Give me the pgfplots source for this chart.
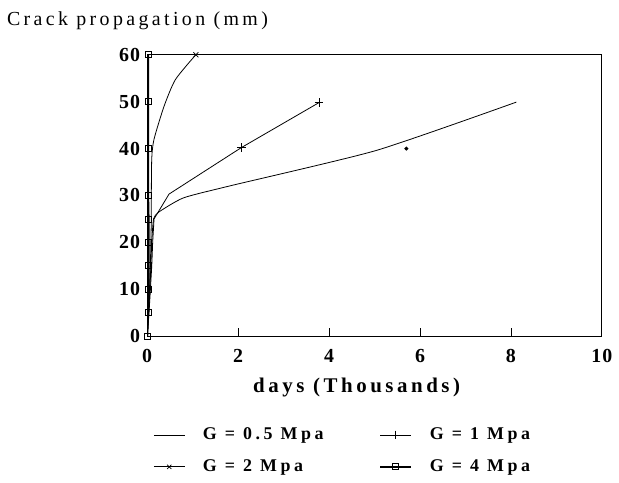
\documentclass[border=0pt]{standalone}
\usepackage{fontspec}
\setmainfont{Liberation Serif}
\newfontfamily\spaced{Liberation Serif}[LetterSpace=6]
\newfontfamily\wide{Liberation Serif}[LetterSpace=17]
\newfontfamily\legfont{Liberation Serif}[LetterSpace=20]
\usepackage{pgfplots}
\pgfplotsset{compat=1.18}
\begin{document}
\begin{tikzpicture}
\begin{axis}[
  scale only axis, width=228.5pt, height=141.5pt,
  xmin=0, xmax=10, ymin=0, ymax=60,
  xtick={0,2,4,6,8,10}, ytick={0,10,20,30,40,50,60},
  /pgf/number format/assume math mode=true,
  ticklabel style={font=\spaced\bfseries\fontsize{10}{12}\selectfont},
  xticklabel style={yshift=-3pt},
  xtick pos=bottom, ytick pos=left,
  tick style={black, thin}, major tick length=4pt,
  ytick style={draw=none},
  axis line style={black, line width=0.6pt},
  xlabel={\wide\bfseries\fontsize{10.5}{12}\selectfont days (Thousands)},
  xlabel style={yshift=-1pt, xshift=-9pt},
  legend columns=2,
  legend image code/.code={\draw[mark repeat=2,mark phase=2,#1] plot coordinates {(0cm,0cm) (0.27cm,0cm) (0.54cm,0cm)};},
  legend style={at={(axis description cs:0.0,-0.295)}, anchor=north west, draw=none, fill=none,
    font=\legfont\bfseries\fontsize{9}{10}\selectfont, row sep=4.5pt,
    nodes={inner xsep=4pt},
    /tikz/every even column/.append style={column sep=24pt}},
  legend cell align=left,
]
\addplot[black, thin, smooth, tension=0.35, no marks] coordinates {
(0,0)(0.03,5)(0.06,10)(0.08,15)(0.1,20)(0.14,25)(0.26,26.5)(0.8,29.5)(1.8,32)(5.04,39.6)(8.12,49.9)};
\addlegendentry{\hspace*{5pt}G = 0.5 Mpa}
\addplot[black, thin, mark=+, mark size=2.2pt, mark indices={8,9}, forget plot] coordinates {
(0,0)(0.04,5)(0.07,10)(0.1,15)(0.12,20)(0.15,25)(0.48,30.3)(2.07,40.2)(3.78,49.8)};
\addlegendimage{black, thin, mark=+, mark size=2.2pt}
\addlegendentry{\hspace*{5pt}G = 1 Mpa}
\addplot[black, thin, smooth, tension=0.4, mark=x, mark size=1.8pt, mark indices={12}, forget plot] coordinates {
(0,0)(0.03,5)(0.05,10)(0.07,15)(0.08,20)(0.09,25)(0.09,30)(0.1,38)(0.15,42)(0.37,49)(0.62,54.7)(1.07,60)};
\addlegendimage{black, thin, mark=x, mark size=1.5pt}
\addlegendentry{\hspace*{5pt}G = 2 Mpa}
\addplot[black, line width=1pt, mark=square, mark size=1.5pt, mark options={thin}] coordinates {
(0,0)(0.02,5)(0.03,10)(0.03,15)(0.03,20)(0.03,25)(0.02,30)(0.02,40)(0.02,50)(0.02,60)};
\addlegendentry{\hspace*{5pt}G = 4 Mpa}
\addplot[black, only marks, mark=*, mark size=0.8pt, forget plot] coordinates {(5.7,40)};
\end{axis}
\node[anchor=north west, font=\wide\fontsize{10}{12}\selectfont] at ([xshift=-74pt, yshift=25pt]current axis.north west) {Crack propagation (mm)};
\path (current axis.south west) ++(-74pt,-70.5pt) rectangle ++(309.5pt,239.5pt);
\end{tikzpicture}
\end{document}
